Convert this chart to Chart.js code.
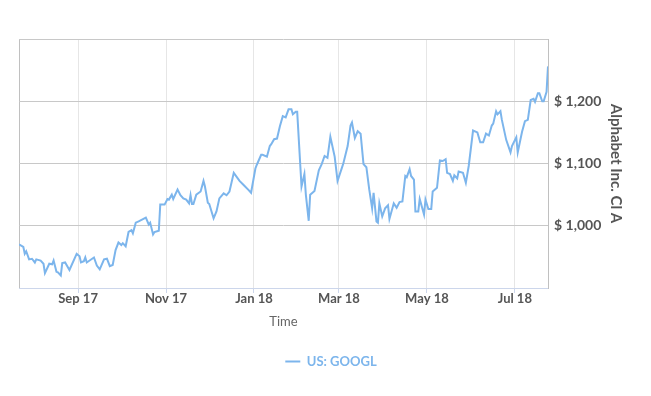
<!DOCTYPE html>
<html>
<head>
<meta charset="utf-8">
<script src="https://cdn.jsdelivr.net/npm/chart.js@4"></script>
<style>
  html, body { margin: 0; padding: 0; background: #ffffff; }
  #wrap { width: 651px; height: 396px; position: relative; }
</style>
</head>
<body>
<div id="wrap"><canvas id="c"></canvas></div>
<script>
// Days counted from 2017-09-01 (day 0)
const days = [
  -41,-38,-37,-36,-34,-32,-30,-29,-26,-24,-23,-20,-18,-17,-15,-14,-12,-11,-9,-6,
  -1,1,2,4,5,6,11,13,15,18,20,22,24,26,28,30,31,33,35,37,
  38,40,42,47,49,50,52,53,56,57,60,62,63,65,66,69,71,73,75,77,
  78,79,80,82,85,87,88,90,91,94,96,98,101,103,105,108,112,115,118,120,
  123,124,127,128,131,133,134,136,138,140,142,144,146,148,149,151,152,155,157,158,
  160,161,163,164,167,169,171,173,175,178,180,183,184,187,189,190,192,194,196,198,
  200,202,204,205,207,208,209,211,213,215,216,219,221,223,225,227,228,230,231,233,
  234,236,237,240,241,243,245,246,249,251,253,255,256,258,260,261,263,264,267,269,
  271,274,277,279,281,283,285,287,288,290,291,293,294,297,300,301,304,305,308,310,
  312,314,316,317,319,320,322,323,325,326
];
const prices = [
  970,966,955,959,946,947,941,946,944,939,924,939,938,944,926,925,920,940,941,929,
  955,951,941,943,949,941,949,936,930,946,947,935,937,961,973,969,972,967,990,993,
  988,1005,1007,1013,1002,1005,986,990,992,1034,1034,1043,1042,1050,1043,1058,1049,1044,1042,1036,
  1049,1035,1035,1050,1055,1072,1063,1037,1035,1012,1023,1044,1052,1049,1055,1085,1072,1065,1058,1053,
  1092,1098,1114,1114,1111,1128,1131,1139,1140,1160,1176,1174,1187,1187,1179,1183,1183,1063,1083,1050,
  1008,1050,1054,1056,1089,1099,1112,1109,1143,1111,1072,1093,1100,1128,1161,1166,1141,1152,1148,1099,
  1094,1058,1028,1053,1007,1005,1036,1015,1028,1033,1011,1036,1029,1038,1039,1080,1078,1091,1080,1074,
  1023,1023,1043,1018,1042,1027,1027,1055,1061,1105,1104,1107,1085,1083,1072,1081,1076,1087,1085,1069,
  1096,1153,1150,1134,1134,1148,1145,1161,1164,1184,1179,1184,1170,1138,1118,1128,1142,1118,1151,1168,
  1170,1202,1204,1199,1213,1213,1200,1200,1215,1256
];
const seriesName = 'US: GOOGL';
const tickDays = [0, 61, 122, 181, 242, 303];
const tickLabels = ['Sep 17', 'Nov 17', 'Jan 18', 'Mar 18', 'May 18', 'Jul 18'];
const yTickValues = [1000, 1100, 1200];
const yTitle = 'Alphabet Inc. Cl A';
const xTitle = 'Time';

const X_MIN = -41, X_MAX = 326;
const points = days.map((d, i) => ({ x: d, y: prices[i] }));

// Nudge the centred legend slightly to the right, as in the reference
const legendShift = {
  id: 'legendShift',
  afterLayout(chart) {
    if (chart.legend) { chart.legend.left += 14; }
  }
};

new Chart(document.getElementById('c'), {
  type: 'line',
  plugins: [legendShift],
  data: {
    datasets: [{
      label: seriesName,
      data: points,
      borderColor: '#7cb5ec',
      backgroundColor: '#7cb5ec',
      borderWidth: 2,
      pointRadius: 0,
      tension: 0,
      fill: false
    }]
  },
  options: {
    responsive: true,
    maintainAspectRatio: false,
    animation: false,
    layout: { padding: { left: 19, top: 39, right: 22, bottom: 18 } },
    plugins: {
      tooltip: { enabled: false },
      legend: {
        position: 'bottom',
        labels: {
          usePointStyle: true,
          pointStyle: 'line',
          pointStyleWidth: 15,
          color: '#7cb5ec',
          font: { family: 'Lato', size: 13, weight: 'bold' },
          padding: 25
        }
      }
    },
    scales: {
      x: {
        type: 'linear',
        min: X_MIN,
        max: X_MAX,
        afterBuildTicks: (scale) => {
          scale.ticks = [{ value: X_MIN }].concat(tickDays.map(v => ({ value: v })));
        },
        afterFit: (scale) => { scale.height = 42; },
        ticks: {
          autoSkip: false,
          maxRotation: 0,
          padding: -2,
          color: '#555',
          font: { family: 'Lato', size: 13, weight: 'bold' },
          callback: (value) => {
            const i = tickDays.indexOf(value);
            return i >= 0 ? tickLabels[i] : '';
          }
        },
        grid: {
          color: (ctx) => (ctx.tick && ctx.tick.value === X_MIN) ? '#c0c0c0' : '#e6e6e6',
          tickColor: (ctx) => (ctx.tick && ctx.tick.value === X_MIN) ? 'rgba(0,0,0,0)' : '#ccd6eb',
          tickLength: 5,
          lineWidth: 1
        },
        border: { display: true, color: '#ccd6eb', width: 1 },
        title: {
          display: true,
          text: xTitle,
          color: '#666',
          font: { family: 'Lato', size: 13, weight: 'normal' },
          padding: { top: 0, bottom: 0 }
        }
      },
      y: {
        position: 'right',
        min: 900,
        max: 1300,
        afterBuildTicks: (scale) => {
          scale.ticks = [900, 1000, 1100, 1200, 1300].map(v => ({ value: v }));
        },
        afterFit: (scale) => { scale.width = 81; },
        ticks: {
          padding: 6,
          color: '#555',
          font: { family: 'Lato', size: 14, weight: 'bold' },
          callback: (value) => yTickValues.includes(value) ? '$ ' + value.toLocaleString('en-US') : ''
        },
        grid: {
          drawTicks: false,
          color: (ctx) => (ctx.tick && ctx.tick.value === 900) ? 'rgba(0,0,0,0)' : '#c8c8c8',
          lineWidth: 1
        },
        border: { display: true, color: '#c0c0c0', width: 1 },
        title: {
          display: true,
          text: yTitle,
          color: '#555',
          font: { family: 'Lato', size: 15, weight: 'bold' },
          padding: { top: 4, bottom: 4 }
        }
      }
    }
  }
});
</script>
</body>
</html>
